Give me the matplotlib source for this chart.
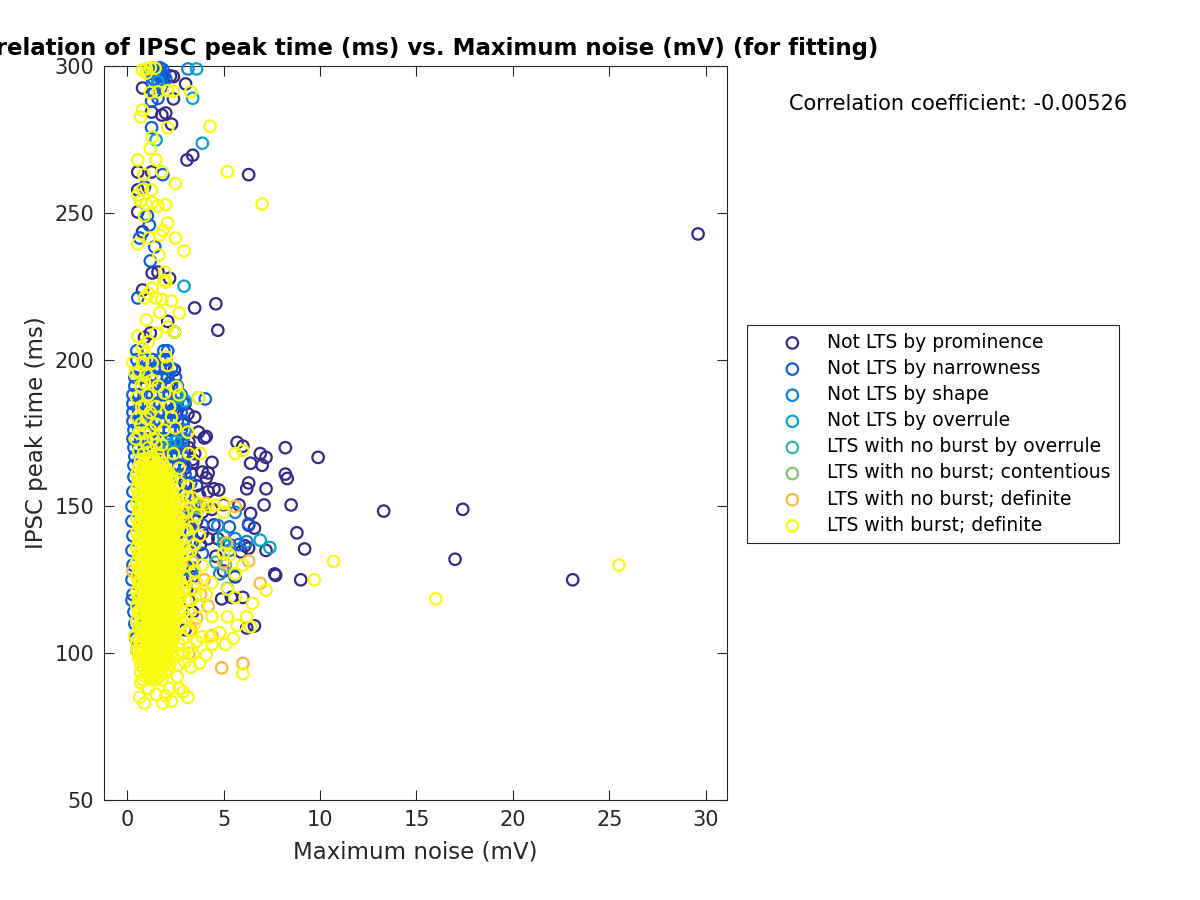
#!/usr/bin/env python3
"""Scatter of IPSC peak time against maximum noise, one colour per LTS class"""
import matplotlib
matplotlib.use('Agg')
import matplotlib.pyplot as plt

x_ticks = [0, 5, 10, 15, 20, 25, 30]
y_ticks = [50, 100, 150, 200, 250, 300]
corr_text = 'Correlation coefficient: -0.00526'

labels = ['Not LTS by prominence', 'Not LTS by narrowness', 'Not LTS by shape',
          'Not LTS by overrule', 'LTS with no burst by overrule',
          'LTS with no burst; contentious', 'LTS with no burst; definite',
          'LTS with burst; definite']
colors = ['#352a87', '#0f5cdd', '#1481d6', '#06a4ca',
          '#2eb7a4', '#87bf77', '#fdb93c', '#f9fb0e']

# values, (noise, peak time)
prominence = [
    (29.6, 242.8), (23.1, 125), (17.4, 149), (17.0, 132), (13.3, 148.4), (9.9, 166.7),
    (8.2, 170), (8.2, 161), (8.3, 159.5), (8.5, 150.5), (8.8, 141), (9.2, 135.5),
    (9.0, 125), (7.7, 126.5), (7.65, 127), (6.9, 168), (7.2, 166.7), (7.0, 164),
    (6.4, 164.7), (7.2, 156), (7.1, 150.5), (6.4, 147.6), (5.7, 171.8), (6.0, 170.5),
    (6.3, 158), (6.2, 156), (6.6, 142.6), (6.3, 143.6), (7.2, 135), (6.3, 135.8),
    (6.1, 136.6), (6.6, 109.3), (6.2, 108.6), (6.0, 119), (4.7, 210), (4.6, 219),
    (3.5, 217.6), (6.3, 263), (3.1, 268), (3.4, 269.6), (2.25, 296.6), (2.4, 296.4),
    (3.03, 293.9), (2.4, 288.8), (0.8, 292.5), (1.27, 284.3), (1.8, 283.3), (2.0, 284),
    (2.3, 280.2), (0.55, 263.9), (1.27, 263.9), (0.55, 257.8), (0.55, 250.3), (0.8, 243.5),
    (1.3, 229.5), (1.6, 229.8), (2.2, 227.7), (0.8, 223.7), (2.45, 209.4), (2.1, 213),
    (1.2, 209), (0.9, 207.5), (2.45, 196.5), (3.5, 180.4), (3.15, 181.5), (3.7, 175.3),
    (4.0, 173.3), (4.1, 173.8), (4.4, 165), (3.4, 164.8), (3.9, 161.7), (4.2, 161.4),
    (3.3, 161.4), (4.1, 159.7), (4.5, 156), (4.75, 155.6), (3.6, 157), (3.75, 153.8),
    (4.2, 155), (3.0, 158), (2.9, 171), (3.2, 170), (3.4, 166), (4.5, 143.7), (5.0, 150.6),
    (5.8, 150.5), (4.4, 149), (3.9, 148), (4.7, 139), (5.3, 137), (5.9, 134.5), (5.0, 128),
    (4.6, 133), (4.2, 139), (3.8, 137), (3.5, 132), (5.6, 126), (5.4, 119), (4.9, 118.5),
    (3.4, 126), (3.1, 122), (3.4, 114), (3.0, 108), (3.2, 118), (2.9, 146), (3.3, 150),
    (2.9, 178), (3.0, 185), (2.6, 188), (2.2, 192), (2.4, 183), (3.2, 144), (3.0, 138),
    (3.6, 145), (3.9, 141), (3.3, 153), (3.0, 163), (3.2, 172), (3.5, 168),
]
narrowness = [
    (1.2, 299), (1.4, 299.2), (1.55, 299), (1.7, 299.4), (1.85, 298.8), (1.3, 297.4),
    (1.5, 297.2), (1.7, 297), (1.9, 296.8), (1.4, 295.4), (1.6, 295.2), (1.8, 295),
    (2.0, 295.6), (1.55, 293.4), (1.3, 294), (1.8, 293), (1.35, 298.4), (1.65, 298.2),
    (1.6, 289), (1.27, 288), (1.4, 291), (1.85, 263),
    (1.27, 279), (1.15, 245.8), (0.65, 241.4), (1.43, 238.4), (1.2, 233.6), (0.55, 221),
    (0.9, 258.8), (1.05, 249), (4.05, 186.6), (3.9, 143.7), (5.3, 143), (3.9, 134),
    (3.3, 158), (3.5, 150), (3.1, 146), (3.3, 141), (3.1, 135), (3.4, 129), (3.0, 154),
    (3.0, 161), (3.2, 148), (3.4, 138), (2.9, 129), (3.1, 125), (5.8, 137), (6.3, 144),
    (0.35, 160), (0.3, 155), (0.25, 150), (0.25, 145), (0.3, 140), (0.25, 135), (0.3, 130),
    (0.25, 125), (0.3, 120), (0.25, 118), (0.35, 114), (0.4, 110), (0.45, 105), (0.5, 101),
]
# filled blue part of the cloud, rows of (peak time, noise values at that time)
narrow_times = [203, 200, 197, 194, 191, 188, 185, 182, 179, 176, 173, 170, 167, 164]
narrow_noise = [
    [0.5, 1.9, 2.1],
    [0.5, 0.9, 1.3, 1.7, 2.0],
    [0.6, 1.0, 1.4, 1.7, 2.0, 2.3],
    [0.4, 0.8, 1.2, 1.5, 1.8, 2.1, 2.5],
    [0.4, 0.7, 1.0, 1.3, 1.7, 2.0, 2.3, 2.6],
    [0.3, 0.6, 1.0, 1.3, 1.6, 1.9, 2.2, 2.5, 2.8],
    [0.3, 0.7, 1.1, 1.4, 1.7, 2.0, 2.3, 2.6, 2.9],
    [0.3, 0.6, 0.9, 1.2, 1.6, 1.9, 2.2, 2.5, 2.8],
    [0.3, 0.7, 1.0, 1.4, 1.7, 2.0, 2.3, 2.6, 2.9],
    [0.35, 0.6, 0.9, 1.2, 1.6, 1.9, 2.2, 2.5, 2.8],
    [0.3, 0.7, 1.1, 1.4, 1.7, 2.0, 2.3, 2.6, 2.9],
    [0.35, 0.6, 0.9, 1.2, 1.6, 1.9, 2.2, 2.5, 2.8],
    [0.4, 0.7, 1.0, 1.4, 1.7, 2.0, 2.3, 2.6, 2.9],
    [0.35, 0.6, 2.1, 2.4, 2.7, 3.0],
]
shape = [
    (3.15, 299), (5.6, 148), (5.6, 139), (6.2, 138), (5.3, 135), (3.7, 187), (2.8, 172),
    (4.7, 143.5), (3.0, 150), (2.7, 160), (3.3, 128), (4.8, 127), (3.0, 176),
]
overrule = [
    (3.6, 299), (3.4, 289), (1.5, 274.8), (3.9, 273.7), (2.95, 225), (1.6, 294.6),
    (5.0, 140), (6.9, 138.5), (7.4, 136), (5.0, 137.5), (2.7, 187), (3.0, 186),
    (2.2, 171), (5.6, 126.6), (5.2, 122), (2.5, 172),
]
no_burst_overrule = [(3.8, 150), (5.2, 137), (4.6, 131)]
contentious = [(3.7, 149.5), (5.1, 130)]
no_burst_definite = [
    (5.6, 150), (5.0, 131), (6.3, 131.4), (6.9, 123.8), (5.15, 137.5), (6.0, 96.5),
    (4.9, 95), (3.0, 150.5), (4.0, 125), (3.8, 120), (4.2, 116), (3.6, 112), (4.4, 106),
    (3.2, 100), (2.9, 145), (3.4, 131), (0.3, 128), (3.3, 108), (4.1, 151),
]

burst_outer = [
    (25.5, 130), (10.7, 131.3), (9.7, 125), (16, 118.5), (7, 253), (5.2, 264), (4.3, 279.5),
    (0.8, 298.6), (1.0, 299), (1.2, 299.4), (1.45, 299.2), (1.0, 297.6), (1.2, 291),
    (1.6, 291.2), (2.4, 291.4), (3.3, 291.2), (2.1, 291.6),
    (0.8, 285), (0.7, 282.6), (2.1, 279), (1.3, 275.8), (1.2, 271.8), (0.55, 268), (1.5, 268),
    (1.8, 264), (0.87, 263), (2.5, 260), (1.25, 257.8), (0.55, 256), (0.8, 258), (0.7, 254),
    (1.0, 253), (2.0, 252.7), (1.3, 253.5), (1.6, 252.3), (0.9, 249), (2.1, 246.5),
    (1.85, 244), (2.5, 241.4), (1.7, 242.4), (1.15, 241.4), (0.55, 239.4), (2.95, 237),
    (1.65, 235.6), (1.95, 229.8), (1.9, 227), (2.0, 226.4), (1.3, 224.3), (1.1, 222.5),
    (0.9, 221), (2.3, 220), (1.8, 220.5), (1.5, 221), (2.7, 215.9), (1.0, 213.5), (1.7, 216),
    (2.1, 211), (2.45, 209.4), (0.55, 208), (1.5, 209), (0.8, 204), (1.1, 206), (0.3, 199),
    (2.0, 201), (2.1, 198), (0.4, 195.4), (1.3, 198.8), (0.9, 202), (1.0, 195), (0.7, 191),
    (1.95, 188.6), (2.7, 188), (3.7, 187), (2.55, 190.7), (0.75, 184), (2.2, 184), (1.5, 184),
    (2.3, 180.4), (2.5, 176.7), (3.15, 175.3), (2.4, 168), (3.2, 168), (3.8, 168), (5.6, 168),
    (6, 169), (2.7, 163), (2.7, 158), (3.15, 157), (2.8, 152), (3.75, 151), (4.5, 150.5),
    (5, 151), (5, 148), (1.1, 188), (1.6, 191), (0.5, 180), (1.0, 180), (1.5, 178), (1.9, 176),
    (0.45, 173), (0.9, 175), (1.35, 173), (1.8, 171), (0.6, 169), (1.1, 170), (1.6, 168),
    (0.8, 199), (0.6, 196), (0.9, 192), (1.3, 193), (0.5, 187), (0.9, 184), (1.2, 182),
    (0.7, 178), (1.2, 176), (0.6, 175), (1.0, 172), (1.5, 171), (0.85, 168), (1.3, 167),
    (3.35, 153), (3.6, 147), (3.1, 148), (4.2, 150), (7.2, 121.5), (6.5, 117), (5.6, 119),
    (6.2, 112.4), (6.4, 109), (5.2, 112.4), (5.7, 109.5), (5.5, 105), (5.1, 103), (6, 93),
    (5.2, 121.8), (5, 134), (5.3, 133.5), (6, 130), (5.6, 127), (3.15, 85), (2.9, 86.8),
    (2.3, 83.6), (1.85, 83), (0.9, 83), (0.65, 85), (4.1, 99.4), (3.75, 96.6), (3.3, 95.3),
    (4.4, 112.5), (4.3, 105.6), (4.8, 107), (3.6, 104), (3.9, 105.6), (4.4, 103), (3.75, 140),
    (3.4, 143), (3.5, 137), (3.9, 130), (4.1, 120), (4.4, 124), (3.3, 118), (3.6, 124),
    (3.1, 134), (3.0, 126), (3.5, 110), (3.1, 112), (2.9, 105), (3.2, 102), (3.0, 97),
    (2.6, 92), (2.2, 88), (1.5, 86), (1.1, 88), (2.0, 85.5), (0.7, 90), (3.4, 100), (2.7, 88),
    (3.0, 142), (2.95, 136), (3.15, 130), (2.95, 122), (3.05, 118), (2.9, 114), (3.2, 108),
    (2.85, 110), (2.7, 103), (2.95, 100), (2.65, 96), (3.45, 122), (3.7, 116), (3.5, 128),
    (2.9, 148), (3.1, 142), (3.3, 135), (3.15, 153), (2.75, 146), (2.85, 133), (2.6, 100),
]

# dense middle of the yellow cloud, rows of (peak time, noise values at that time)
core_times = [166, 163.5, 161, 158.5, 156, 153.5, 151, 148.5, 146, 143.5, 141, 138.5, 136,
              133.5, 131, 128.5, 126, 123.5, 121, 118.5, 116, 113.5, 111, 108.5, 106, 103.5,
              101, 98.5, 96, 93.5, 91]
core_noise = [
    [0.7, 1.1, 1.4, 1.7],
    [0.6, 0.9, 1.3, 1.6, 1.9],
    [0.5, 0.8, 1.2, 1.5, 1.8, 2.1],
    [0.6, 1.0, 1.3, 1.7, 2.0, 2.3],
    [0.5, 0.8, 1.1, 1.5, 1.9, 2.2],
    [0.6, 1.0, 1.3, 1.6, 2.0, 2.4],
    [0.5, 0.8, 1.2, 1.5, 1.8, 2.2, 2.5],
    [0.6, 0.9, 1.3, 1.7, 2.0, 2.4],
    [0.5, 0.8, 1.1, 1.5, 1.9, 2.2, 2.6],
    [0.6, 1.0, 1.3, 1.6, 2.0, 2.4, 2.7],
    [0.5, 0.8, 1.2, 1.5, 1.8, 2.2, 2.5],
    [0.6, 0.9, 1.3, 1.7, 2.0, 2.4, 2.8],
    [0.5, 0.8, 1.1, 1.5, 1.9, 2.2, 2.6],
    [0.6, 1.0, 1.3, 1.6, 2.0, 2.4, 2.8],
    [0.5, 0.8, 1.2, 1.5, 1.8, 2.2, 2.6],
    [0.6, 0.9, 1.3, 1.7, 2.0, 2.4, 2.7],
    [0.5, 0.8, 1.1, 1.5, 1.9, 2.2, 2.5],
    [0.6, 1.0, 1.3, 1.6, 2.0, 2.4, 2.8],
    [0.5, 0.8, 1.2, 1.5, 1.8, 2.2, 2.6],
    [0.6, 0.9, 1.3, 1.7, 2.0, 2.4, 2.7],
    [0.5, 0.8, 1.1, 1.5, 1.9, 2.2, 2.5],
    [0.6, 1.0, 1.3, 1.6, 2.0, 2.4, 2.7],
    [0.5, 0.8, 1.2, 1.5, 1.8, 2.2, 2.5],
    [0.6, 0.9, 1.3, 1.7, 2.0, 2.4],
    [0.4, 0.8, 1.1, 1.5, 1.9, 2.2, 2.5],
    [0.5, 1.0, 1.3, 1.6, 2.0, 2.3],
    [0.5, 0.8, 1.2, 1.5, 1.8, 2.2],
    [0.6, 0.9, 1.3, 1.7, 2.0, 2.4],
    [0.7, 1.1, 1.5, 1.9, 2.2],
    [0.7, 1.0, 1.3, 1.6, 2.0],
    [0.8, 1.2, 1.5, 1.8],
]
core2_times = [164.7, 162.2, 159.7, 157.2, 154.7, 152.2, 149.7, 147.2, 144.7, 142.2, 139.7,
               137.2, 134.7, 132.2, 129.7, 127.2, 124.7, 122.2, 119.7, 117.2, 114.7, 112.2,
               109.7, 107.2, 104.7, 102.2, 99.7, 97.2, 94.7, 92.2]
core2_noise = [
    [0.85, 1.25, 1.55, 1.85],
    [0.75, 1.05, 1.45, 1.75, 2.0],
    [0.65, 0.95, 1.35, 1.65, 1.95, 2.2],
    [0.75, 1.15, 1.5, 1.85, 2.15],
    [0.65, 0.95, 1.3, 1.7, 2.05, 2.35],
    [0.75, 1.15, 1.45, 1.8, 2.2, 2.45],
    [0.65, 1.0, 1.35, 1.65, 2.0, 2.35],
    [0.75, 1.1, 1.5, 1.85, 2.2, 2.5],
    [0.65, 0.95, 1.3, 1.7, 2.05, 2.4],
    [0.75, 1.15, 1.45, 1.8, 2.2, 2.55],
    [0.65, 1.0, 1.35, 1.65, 2.0, 2.35, 2.65],
    [0.75, 1.1, 1.5, 1.85, 2.2, 2.55],
    [0.65, 0.95, 1.3, 1.7, 2.05, 2.4, 2.7],
    [0.75, 1.15, 1.45, 1.8, 2.2, 2.6],
    [0.65, 1.0, 1.35, 1.65, 2.0, 2.4, 2.75],
    [0.75, 1.1, 1.5, 1.85, 2.2, 2.55],
    [0.65, 0.95, 1.3, 1.7, 2.05, 2.4, 2.7],
    [0.75, 1.15, 1.45, 1.8, 2.2, 2.6],
    [0.65, 1.0, 1.35, 1.65, 2.0, 2.4, 2.7],
    [0.75, 1.1, 1.5, 1.85, 2.2, 2.55],
    [0.65, 0.95, 1.3, 1.7, 2.05, 2.35],
    [0.75, 1.15, 1.45, 1.8, 2.2, 2.55],
    [0.65, 1.0, 1.35, 1.65, 2.0, 2.35],
    [0.75, 1.1, 1.5, 1.85, 2.2, 2.45],
    [0.6, 0.95, 1.3, 1.7, 2.05, 2.35],
    [0.75, 1.15, 1.45, 1.8, 2.1],
    [0.65, 1.0, 1.35, 1.65, 2.0, 2.3],
    [0.8, 1.2, 1.6, 2.05],
    [0.85, 1.2, 1.45, 1.8, 2.1],
    [0.9, 1.15, 1.4, 1.7],
]


def expand(times, noise):
    """Turn rows of (time, noise values) into (noise, time) points"""
    return [(n, t) for t, row in zip(times, noise) for n in row]


narrowness = narrowness + expand(narrow_times, narrow_noise)
burst = burst_outer + expand(core_times, core_noise) + expand(core2_times, core2_noise)

series = [prominence, narrowness, shape, overrule, no_burst_overrule,
          contentious, no_burst_definite, burst]

fig = plt.figure(figsize=(12, 9), dpi=100)
ax = fig.add_axes([104 / 1200, 100 / 900, 623 / 1200, 734 / 900])

for pts, col, lab in zip(series, colors, labels):
    xs = [p[0] for p in pts]
    ys = [p[1] for p in pts]
    ax.scatter(xs, ys, s=68, facecolors='none', edgecolors=col, linewidths=1.6,
               label=lab, clip_on=False, zorder=3)

ax.set_xlim(-1.2, 31.1)
ax.set_ylim(50, 300)
ax.set_xticks(x_ticks)
ax.set_yticks(y_ticks)
ax.tick_params(direction='in', top=True, right=True, length=7, width=0.8,
               labelsize=15, colors='#262626', pad=7)
for s in ax.spines.values():
    s.set_color('#262626')
    s.set_linewidth(0.8)

ax.set_xlabel('Maximum noise (mV)', fontsize=16.5, color='#262626', labelpad=8)
ax.set_ylabel('IPSC peak time (ms)', fontsize=16.5, color='#262626', labelpad=5)
ax.set_title('Correlation of IPSC peak time (ms) vs. Maximum noise (mV) (for fitting)',
             fontsize=16.5, fontweight='bold', color='black', pad=8)

fig.text(1127 / 1200, 1 - 104 / 900, corr_text, fontsize=15.05, ha='right', va='center')

leg = ax.legend(loc='upper left', bbox_to_anchor=(747 / 1200, 1 - 325 / 900),
                bbox_transform=fig.transFigure, fontsize=13.5, frameon=True,
                fancybox=False, framealpha=1, edgecolor='#262626', borderaxespad=0,
                labelspacing=0.38, handlelength=4, handletextpad=-0.13, borderpad=0.42)
leg.get_frame().set_linewidth(0.8)

fig.savefig('out.png', dpi=100)
